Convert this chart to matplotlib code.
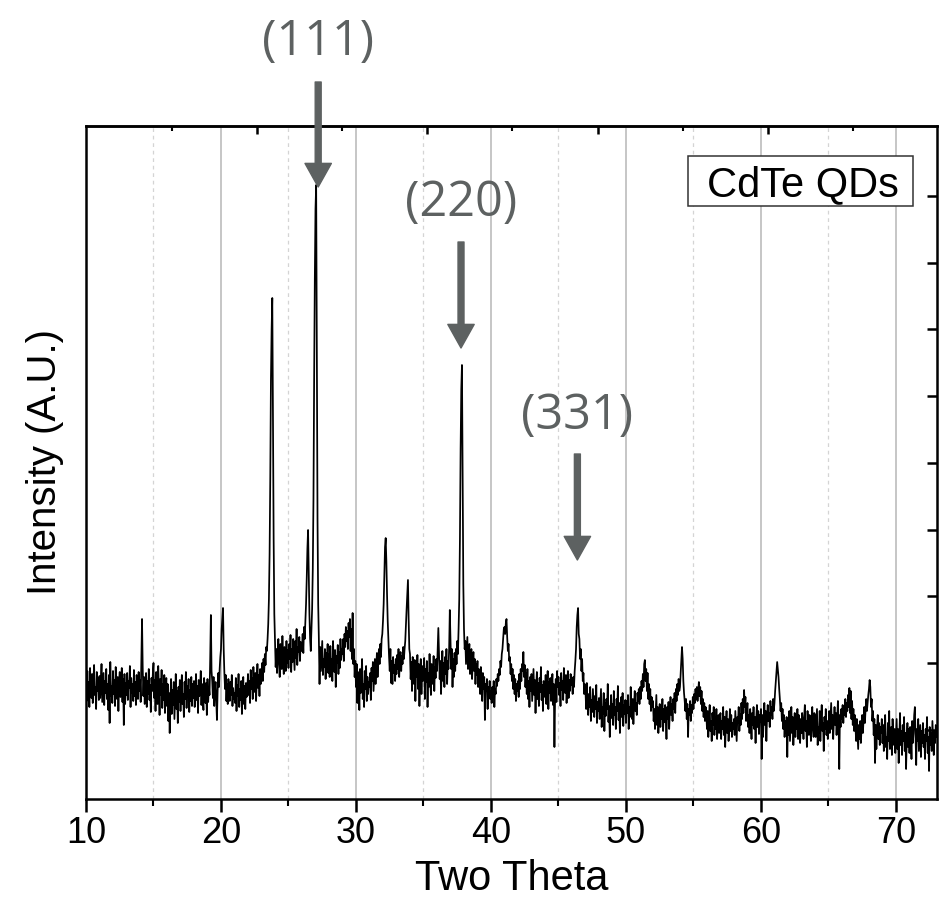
import numpy as np
import matplotlib
matplotlib.use("Agg")
import matplotlib.pyplot as plt
from matplotlib.patches import Rectangle

# ---------------- data ----------------
two_theta_start = 10.0
two_theta_step = 0.05
# intensity in arbitrary units (0 = bottom of the frame), 20 samples per degree
intensity = [
    120, 98, 128, 105, 117, 92, 131, 110, 101, 125, 96, 119, 134, 104, 112, 90, 127, 108, 121, 99,      # 10
    123, 101, 116, 135, 97, 111, 126, 94, 118, 106, 130, 100, 115, 89, 124, 76, 137, 103, 113, 96,      # 11
    128, 105, 119, 93, 132, 110, 100, 122, 88, 117, 127, 102, 114, 131, 97, 120, 74, 125, 95, 116,      # 12
    104, 126, 99, 118, 111, 133, 92, 121, 106, 115, 98, 129, 103, 117, 94, 124, 110, 100, 127, 108,     # 13
    119, 97, 140, 180, 132, 103, 122, 95, 113, 126, 92, 118, 105, 130, 99, 114, 87, 121, 108, 125,      # 14
    136, 101, 119, 88, 127, 109, 95, 133, 112, 84, 120, 104, 129, 91, 115, 99, 124, 86, 110, 121,       # 15
    93, 115, 78, 106, 66, 98, 120, 85, 109, 94, 117, 80, 103, 125, 90, 108, 76, 112, 97, 119,           # 16
    88, 110, 124, 95, 105, 82, 117, 100, 127, 91, 113, 104, 120, 87, 109, 98, 122, 93, 115, 101,        # 17
    118, 92, 106, 125, 99, 113, 86, 119, 103, 110, 128, 94, 115, 100, 89, 121, 107, 96, 116, 84,        # 18
    120, 97, 112, 104, 140, 184, 128, 118, 101, 122, 93, 110, 117, 99, 79, 108, 126, 112, 130, 142,     # 19
    150, 170, 180, 191, 150, 126, 110, 124, 98, 115, 95, 120, 108, 98, 117, 104, 124, 93, 111, 100,     # 20
    106, 96, 121, 88, 114, 103, 125, 92, 110, 99, 118, 85, 107, 122, 95, 113, 90, 116, 102, 109,        # 21
    125, 104, 118, 96, 129, 110, 121, 100, 132, 113, 107, 126, 98, 119, 135, 111, 124, 103, 130, 115,   # 22
    122, 136, 118, 140, 127, 145, 134, 152, 148, 160, 175, 200, 245, 320, 420, 470, 501, 380, 260, 185, # 23
    158, 132, 150, 126, 147, 160, 135, 122, 155, 141, 130, 163, 138, 125, 152, 144, 128, 158, 136, 149, # 24
    131, 155, 140, 164, 127, 150, 137, 160, 145, 129, 158, 141, 170, 134, 152, 147, 162, 138, 157, 148, # 25
    150, 165, 146, 172, 160, 178, 195, 220, 250, 269, 225, 185, 160, 148, 170, 190, 230, 300, 420, 520, # 26
    590, 614, 440, 280, 195, 160, 115, 152, 128, 144, 158, 124, 140, 132, 150, 120, 146, 137, 155, 126, # 27
    145, 122, 153, 131, 140, 118, 158, 135, 127, 149, 112, 143, 136, 154, 125, 147, 131, 160, 139, 150, # 28
    145, 160, 138, 165, 152, 172, 158, 168, 150, 176, 162, 180, 148, 170, 140, 186, 135, 150, 122, 138, # 29
    112, 135, 96, 127, 118, 89, 130, 106, 121, 140, 100, 115, 92, 128, 110, 133, 98, 122, 105, 117,     # 30
    112, 126, 99, 131, 118, 137, 108, 124, 140, 115, 132, 146, 122, 139, 150, 135, 155, 142, 160, 165,  # 31
    178, 195, 225, 252, 261, 238, 205, 178, 160, 142, 128, 150, 116, 138, 115, 142, 126, 134, 118, 140, # 32
    125, 144, 130, 150, 122, 138, 147, 128, 143, 135, 152, 140, 150, 158, 175, 190, 205, 219, 180, 150, # 33
    145, 120, 137, 108, 142, 126, 115, 139, 98, 131, 122, 144, 110, 135, 93, 127, 140, 105, 133, 118,   # 34
    124, 141, 100, 130, 117, 138, 92, 126, 112, 145, 120, 104, 135, 125, 115, 143, 108, 132, 121, 140,  # 35
    128, 150, 171, 145, 120, 138, 105, 130, 148, 118, 136, 112, 142, 125, 150, 115, 138, 130, 150, 189, # 36
    160, 130, 150, 112, 140, 122, 146, 128, 150, 135, 158, 145, 170, 200, 260, 350, 410, 434, 320, 215, # 37
    170, 150, 158, 135, 148, 162, 130, 145, 155, 125, 142, 150, 120, 138, 147, 128, 140, 115, 135, 124, # 38
    138, 112, 130, 120, 105, 132, 118, 98, 126, 110, 122, 79, 115, 108, 120, 90, 112, 104, 118, 100,    # 39
    108, 96, 112, 100, 118, 92, 110, 105, 120, 113, 125, 118, 130, 124, 138, 132, 145, 150, 160, 170,   # 40
    172, 165, 176, 180, 162, 148, 155, 138, 142, 125, 135, 118, 130, 110, 124, 105, 120, 98, 115, 108,  # 41
    118, 102, 125, 110, 130, 118, 135, 128, 147, 122, 134, 112, 126, 105, 130, 100, 118, 92, 122, 108,  # 42
    125, 98, 115, 130, 104, 119, 86, 112, 127, 100, 116, 93, 121, 107, 132, 99, 114, 88, 118, 110,      # 43
    102, 124, 95, 113, 128, 90, 117, 106, 121, 98, 110, 125, 94, 115, 52, 104, 120, 97, 128, 112,       # 44
    122, 104, 116, 93, 126, 109, 118, 99, 131, 112, 106, 124, 96, 115, 128, 101, 119, 108, 125, 114,    # 45
    118, 105, 122, 112, 128, 138, 150, 172, 184, 191, 165, 160, 140, 150, 128, 140, 118, 126, 105, 115, # 46
    108, 90, 116, 96, 84, 105, 92, 112, 78, 99, 87, 110, 95, 82, 103, 90, 114, 76, 97, 88,              # 47
    101, 80, 94, 110, 72, 92, 85, 106, 68, 96, 83, 100, 90, 115, 77, 93, 62, 88, 104, 81,               # 48
    95, 74, 108, 84, 92, 70, 100, 88, 113, 79, 96, 66, 90, 102, 82, 106, 73, 94, 85, 99,                # 49
    76, 98, 86, 104, 70, 92, 82, 112, 90, 80, 100, 75, 94, 108, 88, 96, 84, 106, 98, 110,               # 50
    95, 112, 100, 118, 108, 125, 112, 135, 139, 118, 130, 108, 126, 100, 115, 95, 110, 88, 102, 92,     # 51
    98, 78, 90, 70, 86, 104, 74, 92, 66, 84, 95, 72, 88, 80, 100, 68, 90, 77, 94, 82,                   # 52
    60, 92, 80, 97, 70, 88, 102, 84, 95, 78, 100, 90, 106, 86, 110, 98, 115, 104, 120, 108,             # 53
    112, 126, 138, 152, 140, 118, 106, 98, 88, 100, 80, 95, 62, 90, 84, 98, 78, 94, 86, 102,            # 54
    90, 105, 96, 110, 100, 112, 98, 108, 117, 103, 112, 95, 108, 88, 100, 82, 96, 78, 92, 85,           # 55
    70, 88, 62, 80, 94, 68, 78, 58, 86, 74, 92, 64, 82, 70, 90, 60, 76, 84, 66, 80,                     # 56
    86, 60, 78, 70, 92, 64, 82, 52, 75, 88, 66, 80, 58, 72, 90, 68, 84, 62, 76, 70,                     # 57
    80, 64, 88, 72, 58, 82, 76, 92, 68, 85, 74, 96, 80, 100, 86, 109, 92, 102, 78, 88,                  # 58
    96, 72, 84, 66, 90, 78, 60, 86, 74, 92, 70, 82, 56, 80, 94, 72, 88, 65, 84, 77,                     # 59
    90, 40, 84, 62, 80, 96, 74, 88, 58, 82, 94, 78, 86, 72, 98, 84, 92, 80, 100, 88,                    # 60
    96, 108, 118, 128, 137, 130, 122, 110, 100, 88, 96, 78, 90, 70, 84, 62, 78, 66, 82, 42,             # 61
    80, 64, 88, 58, 76, 92, 66, 82, 54, 74, 86, 62, 78, 70, 90, 60, 84, 72, 56, 80,                     # 62
    66, 86, 74, 60, 82, 94, 68, 78, 52, 88, 72, 64, 84, 76, 58, 80, 92, 70, 62, 86,                     # 63
    84, 62, 76, 90, 54, 72, 66, 88, 58, 80, 94, 68, 76, 48, 82, 70, 90, 64, 78, 60,                     # 64
    72, 88, 66, 82, 96, 70, 84, 60, 78, 92, 74, 86, 64, 80, 98, 76, 30, 84, 72, 90,                     # 65
    80, 94, 76, 90, 84, 100, 82, 96, 88, 104, 92, 111, 86, 108, 80, 98, 74, 90, 68, 84,                 # 66
    72, 58, 80, 64, 50, 74, 60, 78, 56, 70, 84, 66, 80, 92, 76, 90, 100, 88, 96, 104,                   # 67
    110, 119, 112, 92, 100, 78, 88, 64, 80, 36, 74, 50, 70, 84, 60, 76, 54, 72, 66, 80,                 # 68
    56, 74, 48, 68, 84, 52, 62, 40, 76, 58, 88, 50, 66, 72, 44, 80, 60, 54, 70, 46,                     # 69
    64, 80, 50, 70, 36, 62, 86, 54, 68, 44, 74, 58, 82, 48, 66, 30, 60, 76, 52, 70,                     # 70
    46, 72, 62, 40, 78, 56, 66, 84, 92, 64, 34, 70, 58, 80, 48, 62, 74, 42, 68, 56,                     # 71
    76, 52, 64, 40, 70, 58, 82, 46, 62, 28, 72, 54, 66, 48, 78, 60, 44, 68, 56, 74,                     # 72
    62,                                                                                                  # 73
]

x_major_ticks = [10, 20, 30, 40, 50, 60, 70]
x_major_labels = ["10", "20", "30", "40", "50", "60", "70"]
x_minor_ticks = [15, 25, 35, 45, 55, 65]
right_ticks = [69, 136, 203, 269, 336, 403, 470, 536, 603]
top_ticks_long = [22.67, 35.26, 47.9, 60.5]
top_ticks_short = [16.37, 28.96, 41.56, 54.2, 66.8]

peak_labels = ["(111)", "(220)", "(331)"]
peak_positions = [27.2, 37.78, 46.4]
label_baselines = [744, 583, 370]
arrow_tails = [717, 557, 345]
arrow_tips = [612, 451, 239]

legend_text = "CdTe QDs"
x_label = "Two Theta"
y_label = "Intensity (A.U.)"

# ---------------- figure ----------------
W, H = 941, 899
fig = plt.figure(figsize=(W / 100, H / 100), dpi=100)
ax = fig.add_axes([86 / W, 1 - 799 / H, (937 - 86) / W, (799 - 126) / H])

two_theta = two_theta_start + two_theta_step * np.arange(len(intensity))

ax.set_xlim(10, 73.04)
ax.set_ylim(0, 673)

# grid
for g in x_major_ticks[1:]:
    ax.axvline(g, color="#bcbcbc", lw=1.2, zorder=0)
for g in x_minor_ticks:
    ax.axvline(g, color="#d4d4d4", lw=0.9, ls=(0, (3, 3)), zorder=0)

ax.plot(two_theta, intensity, color="black", lw=1.25, zorder=2)

# spines and ticks
for s in ax.spines.values():
    s.set_linewidth(1.8)
    s.set_color("black")

ax.set_xticks(x_major_ticks)
ax.set_xticklabels(x_major_labels, fontsize=26, family="Liberation Sans")
ax.set_xticks(x_minor_ticks, minor=True)
ax.tick_params(axis="x", which="major", direction="out", length=9, width=1.8, pad=3,
               top=False, bottom=True)
ax.tick_params(axis="x", which="minor", direction="out", length=5, width=1.5,
               top=False, bottom=True)

ax.set_yticks(right_ticks)
ax.yaxis.set_ticks_position("right")
ax.tick_params(axis="y", which="major", direction="in", length=7, width=1.8,
               labelright=False, labelleft=False, left=False, right=True)

sec = ax.secondary_xaxis("top")
sec.set_xticks(top_ticks_long)
sec.set_xticklabels([])
sec.set_xticks(top_ticks_short, minor=True)
sec.tick_params(axis="x", which="major", direction="in", length=6, width=1.8)
sec.tick_params(axis="x", which="minor", direction="in", length=3.5, width=1.5)
sec.spines["top"].set_linewidth(1.8)

# axis labels
fig.text(512 / W, 1 - 890 / H, x_label, ha="center", va="baseline",
         fontsize=30, family="Liberation Sans")
fig.text(45 / W, 1 - 462 / H, y_label, ha="center", va="center", rotation=90,
         fontsize=29, family="Liberation Sans")

# peak annotations
ann_color = "#5d6161"
for lab, xp, yb, yt, ytip in zip(peak_labels, peak_positions, label_baselines,
                                  arrow_tails, arrow_tips):
    ax.text(xp, yb, lab, ha="center", va="baseline", fontsize=35,
            family="Open Sans", color=ann_color, clip_on=False, zorder=5)
    ax.annotate("", xy=(xp, ytip), xytext=(xp, yt), xycoords="data",
                textcoords="data", annotation_clip=False,
                arrowprops=dict(width=4.3, headwidth=19, headlength=17,
                                facecolor=ann_color, edgecolor=ann_color,
                                shrink=0), zorder=5)

# legend box
ax.add_patch(Rectangle((0.7074, 0.8811), 0.9718 - 0.7074, 0.9554 - 0.8811,
                       transform=ax.transAxes, fill=True, facecolor="white",
                       edgecolor="#333333", lw=1.1, zorder=4))
ax.text(0.8425, 0.896, legend_text, transform=ax.transAxes, ha="center",
        va="baseline", fontsize=30, family="Liberation Sans", zorder=5)

fig.savefig("out.png", dpi=100)
